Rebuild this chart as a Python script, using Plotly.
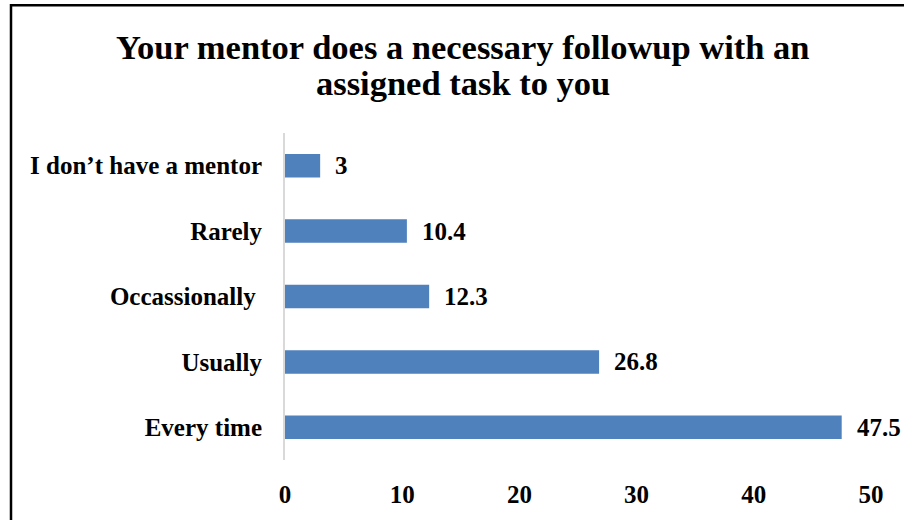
import plotly.graph_objects as go

categories = ["Every time", "Usually", "Occassionally\u00a0", "Rarely", "I don\u2019t have a mentor"]
values = [47.5, 26.8, 12.3, 10.4, 3]
value_labels = ["47.5", "26.8", "12.3", "10.4", "3"]
x_ticks = [0, 10, 20, 30, 40, 50]
title_lines = ["Your mentor does a necessary followup with an", "assigned task to you"]

FONT = "Liberation Serif"
W, H = 904, 520
L, R, T, B = 285, 33, 133, 58
pw, ph = W - L - R, H - T - B


def px_x(x):
    return (x - L) / pw


def px_y(y):
    return (H - B - y) / ph


fig = go.Figure()
fig.add_trace(go.Bar(
    y=categories, x=values, orientation="h",
    marker=dict(color="#4F81BD", line=dict(width=0)),
    hoverinfo="skip",
))
for c, v, t in zip(categories, values, value_labels):
    fig.add_annotation(x=v, y=c, xref="x", yref="y", text=t, showarrow=False,
                       xanchor="left", xshift=13,
                       font=dict(family=FONT, size=25, color="black", weight="bold"))

for line, yc in zip(title_lines, [46, 83]):
    fig.add_annotation(x=px_x(463), y=px_y(yc), xref="paper", yref="paper",
                       text=line, showarrow=False, xanchor="center", yanchor="middle",
                       font=dict(family=FONT, size=34.5, color="black", weight="bold"))

fig.update_layout(
    width=W, height=H,
    margin=dict(l=L, r=R, t=T, b=B),
    paper_bgcolor="white", plot_bgcolor="white",
    bargap=0.64,
    showlegend=False,
    xaxis=dict(
        range=[0, 50], tickvals=x_ticks, showgrid=False, zeroline=False,
        showline=False, ticks="outside", ticklen=12, tickcolor="rgba(0,0,0,0)",
        tickfont=dict(family=FONT, size=25, color="black", weight="bold"),
    ),
    yaxis=dict(
        showgrid=False, zeroline=False, showline=True, linecolor="#D9D9D9", linewidth=2,
        ticks="outside", ticklen=16, tickcolor="rgba(0,0,0,0)",
        tickfont=dict(family=FONT, size=25, color="black", weight="bold"),
    ),
    shapes=[dict(type="rect", xref="paper", yref="paper",
                 x0=px_x(11), x1=2.0, y0=-1.0, y1=px_y(4.5),
                 line=dict(color="black", width=2.5), fillcolor="rgba(0,0,0,0)", layer="above")],
)
fig.write_html("out.html", config={"displayModeBar": False},
               post_script="document.body.style.margin='0';document.body.style.overflow='hidden';")
